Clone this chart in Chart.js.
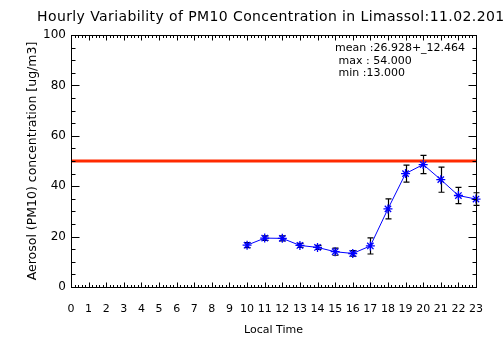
<!DOCTYPE html>
<html>
<head>
<meta charset="utf-8">
<script src="https://cdn.jsdelivr.net/npm/chart.js@4.4.0/dist/chart.umd.min.js"></script>
<style>
    html, body { margin: 0; padding: 0; background: #ffffff; }
    #wrap { width: 504px; height: 361px; position: relative; }
</style>
</head>
<body>
<div id="wrap"><canvas id="pmChart"></canvas></div>
<script>
const hours = [10, 11, 12, 13, 14, 15, 16, 17, 18, 19, 20, 21, 22, 23];
const pm10Mean = [16.6, 19.4, 19.3, 16.5, 15.7, 14.0, 13.3, 16.3, 31.0, 45.0, 48.6, 42.6, 36.3, 34.9];
const pm10Std = [1.0, 0.9, 1.0, 0.8, 0.8, 1.4, 1.1, 3.2, 4.0, 3.4, 3.6, 5.0, 3.2, 2.5];
const xTickLabels = ["0", "1", "2", "3", "4", "5", "6", "7", "8", "9", "10", "11",
    "12", "13", "14", "15", "16", "17", "18", "19", "20", "21", "22", "23"];
const limitValue = 50;
const statsLines = ["mean :26.928+_12.464", " max : 54.000", " min :13.000"];
const titleText = "Hourly Variability of PM10 Concentration in Limassol:11.02.2012";

const textFont = "DejaVu Sans";

const frame = {
    id: "frame",
    beforeDatasetsDraw(chart) {
        // error bars under the blue markers
        const { ctx, scales } = chart;
        ctx.save();
        ctx.strokeStyle = "#000000";
        ctx.lineWidth = 1.2;
        hours.forEach((h, i) => {
            const px = Math.round(scales.x.getPixelForValue(h)) + 0.5;
            const top = scales.y.getPixelForValue(pm10Mean[i] + pm10Std[i]);
            const bot = scales.y.getPixelForValue(pm10Mean[i] - pm10Std[i]);
            ctx.beginPath();
            ctx.moveTo(px, top);
            ctx.lineTo(px, bot);
            ctx.moveTo(px - 3, top);
            ctx.lineTo(px + 3, top);
            ctx.moveTo(px - 3, bot);
            ctx.lineTo(px + 3, bot);
            ctx.stroke();
        });
        ctx.restore();
    },
    afterDraw(chart) {
        const { ctx, chartArea: a, scales } = chart;
        ctx.save();
        ctx.strokeStyle = "#000000";
        ctx.lineWidth = 1;
        const l = Math.round(a.left) + 0.5;
        const r = Math.round(a.right) + 0.5;
        const t = Math.round(a.top) + 0.5;
        const b = Math.round(a.bottom) + 0.5;
        ctx.strokeRect(l, t, r - l, b - t);

        ctx.beginPath();
        for (let k = 0; k <= 23 * 5; k++) {
            const v = k / 5;
            const px = Math.round(scales.x.getPixelForValue(v)) + 0.5;
            const len = k % 5 === 0 ? 5 : 2.5;
            ctx.moveTo(px, b);
            ctx.lineTo(px, b - len);
            ctx.moveTo(px, t);
            ctx.lineTo(px, t + len);
        }
        for (let v = 0; v <= 100; v += 5) {
            const py = Math.round(scales.y.getPixelForValue(v)) + 0.5;
            const len = v % 20 === 0 ? 8 : 4;
            ctx.moveTo(l, py);
            ctx.lineTo(l + len, py);
            ctx.moveTo(r, py);
            ctx.lineTo(r - len, py);
        }
        ctx.stroke();

        ctx.fillStyle = "#000000";
        ctx.textBaseline = "alphabetic";
        ctx.font = "14px " + textFont;
        ctx.letterSpacing = "0.4px";
        ctx.fillText(titleText, 37, 21);
        ctx.letterSpacing = "0px";

        ctx.font = "11px " + textFont;
        statsLines.forEach((line, i) => {
            ctx.fillText(line, 335, 51 + i * 12.5);
        });
        ctx.restore();
    }
};

const chart = new Chart(document.getElementById("pmChart"), {
    type: "line",
    data: {
        datasets: [
            {
                label: "limit",
                data: [{ x: 0, y: limitValue }, { x: 23, y: limitValue }],
                borderColor: "#ff2a00",
                borderWidth: 3,
                pointRadius: 0,
                order: 2,
            },
            {
                label: "PM10",
                data: hours.map((h, i) => ({ x: h, y: pm10Mean[i] })),
                borderColor: "#0000ff",
                borderWidth: 1,
                pointStyle: "star",
                pointRadius: 4.5,
                pointBorderColor: "#0000ff",
                pointBorderWidth: 1.3,
                clip: false,
                order: 1,
            },
        ],
    },
    options: {
        responsive: true,
        maintainAspectRatio: false,
        animation: false,
        layout: {
            padding: { left: 0, right: 28, top: 35, bottom: 0 },
        },
        plugins: {
            legend: { display: false },
            tooltip: { enabled: false },
            title: { display: false },
        },
        scales: {
            x: {
                type: "linear",
                min: 0,
                max: 23,
                afterFit(scale) { scale.height = 74; },
                afterBuildTicks(scale) {
                    scale.ticks = xTickLabels.map((t, i) => ({ value: i }));
                },
                border: { display: false },
                grid: { display: false, drawTicks: false },
                ticks: {
                    autoSkip: false,
                    maxRotation: 0,
                    padding: 16,
                    color: "#000000",
                    font: { family: textFont, size: 11 },
                    callback: (value, index) => xTickLabels[index],
                },
                title: {
                    display: true,
                    text: "Local Time",
                    color: "#000000",
                    font: { family: textFont, size: 11 },
                    padding: { top: 0, bottom: 24 },
                },
            },
            y: {
                min: 0,
                max: 100,
                afterFit(scale) { scale.width = 71; },
                border: { display: false },
                grid: { display: false, drawTicks: false },
                ticks: {
                    stepSize: 20,
                    padding: 5,
                    color: "#000000",
                    font: { family: textFont, size: 12 },
                },
                title: {
                    display: true,
                    text: "Aerosol (PM10) concentration [ug/m3]",
                    color: "#000000",
                    font: { family: textFont, size: 12.5 },
                    padding: { top: 25, bottom: 0 },
                },
            },
        },
    },
    plugins: [frame],
});
</script>
</body>
</html>
